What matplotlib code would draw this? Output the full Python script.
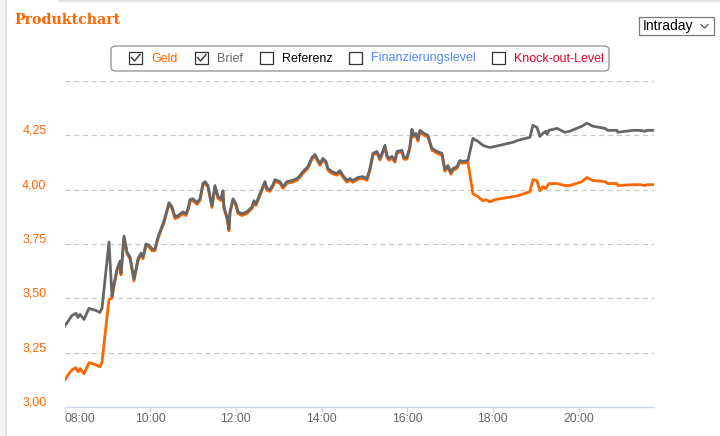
import matplotlib
matplotlib.use("Agg")
import matplotlib.pyplot as plt
import matplotlib.transforms as mtransforms
from matplotlib.patches import FancyBboxPatch, Rectangle
from matplotlib.lines import Line2D

# hours of day
times = [
    8.012, 8.082, 8.175, 8.268, 8.315, 8.362, 8.455, 8.572, 8.735, 8.828,
    8.875, 9.039, 9.108, 9.155, 9.225, 9.295, 9.319, 9.389, 9.459, 9.529,
    9.622, 9.715, 9.785, 9.832, 9.902, 9.972, 10.042, 10.112, 10.182, 10.252,
    10.322, 10.392, 10.439, 10.509, 10.579, 10.649, 10.742, 10.765, 10.835, 10.882,
    10.929, 10.999, 11.092, 11.162, 11.232, 11.279, 11.349, 11.442, 11.512, 11.582,
    11.652, 11.699, 11.722, 11.792, 11.839, 11.862, 11.932, 12.002, 12.049, 12.142,
    12.259, 12.376, 12.422, 12.469, 12.562, 12.679, 12.726, 12.796, 12.866, 12.912,
    13.029, 13.099, 13.193, 13.309, 13.426, 13.496, 13.566, 13.683, 13.776, 13.846,
    13.893, 13.963, 14.033, 14.103, 14.149, 14.243, 14.359, 14.429, 14.499, 14.593,
    14.663, 14.733, 14.849, 14.966, 15.060, 15.130, 15.200, 15.293, 15.363, 15.410,
    15.480, 15.526, 15.573, 15.643, 15.713, 15.760, 15.876, 15.923, 15.993, 16.063,
    16.110, 16.156, 16.203, 16.250, 16.296, 16.390, 16.483, 16.576, 16.693, 16.810,
    16.880, 16.950, 17.020, 17.067, 17.160, 17.230, 17.300, 17.417, 17.533, 17.650,
    17.767, 17.837, 17.930, 18.047, 18.467, 18.583, 18.863, 18.933, 19.027, 19.097,
    19.167, 19.237, 19.260, 19.307, 19.494, 19.680, 19.797, 20.077, 20.194, 20.334,
    20.614, 20.684, 20.894, 20.917, 21.267, 21.431, 21.547, 21.594, 21.781,
]

brief = [
    3.375, 3.394, 3.421, 3.431, 3.412, 3.426, 3.403, 3.454, 3.444, 3.435,
    3.454, 3.759, 3.509, 3.565, 3.634, 3.671, 3.616, 3.787, 3.713, 3.690,
    3.588, 3.681, 3.708, 3.690, 3.750, 3.745, 3.727, 3.727, 3.782, 3.819,
    3.856, 3.907, 3.940, 3.921, 3.875, 3.880, 3.894, 3.898, 3.889, 3.912,
    3.954, 3.958, 3.940, 3.958, 4.028, 4.037, 4.019, 3.926, 4.019, 3.968,
    3.958, 3.995, 3.921, 3.875, 3.819, 3.898, 3.958, 3.935, 3.898, 3.889,
    3.898, 3.921, 3.949, 3.935, 3.981, 4.037, 4.005, 4.000, 4.023, 4.046,
    4.037, 4.014, 4.037, 4.042, 4.051, 4.065, 4.083, 4.106, 4.148, 4.162,
    4.144, 4.120, 4.144, 4.130, 4.097, 4.083, 4.074, 4.088, 4.065, 4.042,
    4.051, 4.042, 4.056, 4.060, 4.051, 4.097, 4.167, 4.176, 4.144, 4.167,
    4.204, 4.157, 4.144, 4.153, 4.134, 4.176, 4.181, 4.148, 4.148, 4.199,
    4.278, 4.250, 4.259, 4.231, 4.273, 4.259, 4.250, 4.190, 4.176, 4.167,
    4.093, 4.111, 4.079, 4.097, 4.106, 4.134, 4.130, 4.134, 4.236, 4.222,
    4.204, 4.199, 4.194, 4.199, 4.218, 4.227, 4.241, 4.296, 4.287, 4.245,
    4.259, 4.269, 4.255, 4.273, 4.282, 4.264, 4.269, 4.292, 4.306, 4.292,
    4.282, 4.273, 4.273, 4.264, 4.273, 4.273, 4.269, 4.273, 4.273,
]

geld = [
    3.125, 3.148, 3.171, 3.181, 3.162, 3.176, 3.153, 3.204, 3.194, 3.185,
    3.208, 3.495, 3.501, 3.557, 3.626, 3.663, 3.608, 3.779, 3.705, 3.682,
    3.580, 3.673, 3.700, 3.682, 3.742, 3.737, 3.719, 3.719, 3.774, 3.811,
    3.848, 3.899, 3.932, 3.913, 3.867, 3.872, 3.886, 3.890, 3.881, 3.904,
    3.946, 3.950, 3.932, 3.950, 4.020, 4.029, 4.011, 3.918, 4.011, 3.960,
    3.950, 3.987, 3.913, 3.867, 3.811, 3.890, 3.950, 3.927, 3.890, 3.881,
    3.890, 3.913, 3.941, 3.927, 3.973, 4.029, 3.997, 3.992, 4.015, 4.038,
    4.029, 4.006, 4.029, 4.034, 4.043, 4.057, 4.075, 4.098, 4.140, 4.154,
    4.136, 4.112, 4.136, 4.122, 4.089, 4.075, 4.066, 4.080, 4.057, 4.034,
    4.043, 4.034, 4.048, 4.052, 4.043, 4.089, 4.159, 4.168, 4.136, 4.159,
    4.196, 4.149, 4.136, 4.145, 4.126, 4.168, 4.173, 4.140, 4.140, 4.191,
    4.270, 4.242, 4.251, 4.223, 4.265, 4.251, 4.242, 4.182, 4.168, 4.159,
    4.085, 4.103, 4.071, 4.089, 4.098, 4.126, 4.122, 4.126, 3.981, 3.968,
    3.949, 3.954, 3.944, 3.954, 3.968, 3.972, 3.991, 4.046, 4.042, 3.995,
    4.014, 4.005, 4.014, 4.028, 4.028, 4.019, 4.019, 4.037, 4.056, 4.042,
    4.037, 4.028, 4.028, 4.019, 4.023, 4.023, 4.019, 4.023, 4.023,
]

y_ticks = [3.0, 3.25, 3.5, 3.75, 4.0, 4.25]
grid_levels = [3.25, 3.5, 3.75, 4.0, 4.25, 4.5]
x_ticks = [8, 10, 12, 14, 16, 18, 20]
x_labels = ["08:00", "10:00", "12:00", "14:00", "16:00", "18:00", "20:00"]
legend_items = ["Geld", "Brief", "Referenz", "Finanzierungslevel", "Knock-out-Level"]
legend_checked = [True, True, False, False, False]

ORANGE = "#ff6600"
GRAY = "#666666"
W, H = 720, 436

plt.rcParams["font.family"] = ["Liberation Sans", "DejaVu Sans"]
fig = plt.figure(figsize=(W / 100, H / 100), dpi=100)


def fx(px):
    return px / W


def fy(py):
    return 1 - py / H


ax = fig.add_axes([fx(64.5), fy(407), fx(654) - fx(64.5), fy(81) - fy(407)])
ax.set_xlim(8.0, 21.76)
ax.set_ylim(3.0, 4.5)

for lv in grid_levels:
    ax.axhline(lv, color="#c8c8c8", lw=0.9, ls=(0, (4, 3)), zorder=1)

ax.plot(times, geld, color=ORANGE, lw=2.0, zorder=3, solid_joinstyle="round")
ax.plot(times, brief, color=GRAY, lw=2.0, zorder=4, solid_joinstyle="round")

for s in ["top", "right", "left"]:
    ax.spines[s].set_visible(False)
ax.spines["bottom"].set_color("#ccd6eb")
ax.spines["bottom"].set_linewidth(1.0)

ax.set_yticks(y_ticks)
ax.set_yticklabels([f"{v:.2f}".replace(".", ",") for v in y_ticks])
ax.tick_params(axis="y", length=0, pad=13, labelsize=9, labelcolor=ORANGE)
lift = mtransforms.ScaledTranslation(0, 6 / 100, fig.dpi_scale_trans)
for lab in ax.get_yticklabels():
    lab.set_transform(lab.get_transform() + lift)

ax.set_xticks(x_ticks)
ax.set_xticklabels(x_labels)
ax.tick_params(axis="x", length=3.6, width=1, color="#ccd6eb", pad=0.5,
               labelsize=8.7, labelcolor=GRAY)
ax.get_xticklabels()[0].set_horizontalalignment("left")

# page frame
fig.patches.append(Rectangle((0, 0), fx(5), 1, transform=fig.transFigure,
                             facecolor="#f4f4f4", edgecolor="none"))
fig.add_artist(Line2D([fx(5.5), fx(5.5)], [0, 1], color="#dddddd", lw=1.2))
fig.add_artist(Line2D([fx(60), 1], [fy(0.8), fy(0.8)], color="#e2e2e2", lw=1.6))

fig.text(fx(14), fy(20), "Produktchart", color=ORANGE, fontsize=10.2,
         fontweight="bold", family="DejaVu Serif", va="center", ha="left")

# Intraday select
fig.patches.append(Rectangle((fx(639), fy(35)), fx(714) - fx(639), fy(17) - fy(35),
                             transform=fig.transFigure, facecolor="white",
                             edgecolor="#7a7a7a", lw=0.9))
fig.text(fx(643), fy(26), "Intraday", color="black", fontsize=10, va="center")
fig.add_artist(Line2D([fx(701), fx(704.5), fx(708)], [fy(24.5), fy(28), fy(24.5)],
                      color="#444444", lw=0.8))

# legend box
fig.patches.append(FancyBboxPatch((fx(111), fy(71)), fx(609) - fx(111), fy(46) - fy(71),
                                  boxstyle="round,pad=0,rounding_size=0.008",
                                  transform=fig.transFigure, facecolor="white",
                                  edgecolor="#999999", lw=1.0))
box_x = [129, 195, 260, 349, 492]
text_x = [151, 217, 282, 371, 514]
colors = [ORANGE, GRAY, "black", "#4f86f7", "#e4002b"]
for bx, tx, label, col, chk in zip(box_x, text_x, legend_items, colors, legend_checked):
    fig.patches.append(Rectangle((fx(bx), fy(64.5)), fx(13), fy(52) - fy(64.5),
                                 transform=fig.transFigure, facecolor="white",
                                 edgecolor="#333333", lw=0.9))
    if chk:
        fig.add_artist(Line2D([fx(bx + 2.5), fx(bx + 5.5), fx(bx + 11)],
                              [fy(57.5), fy(61), fy(54.5)], color="#333333", lw=1.0))
    fig.text(fx(tx), fy(58.5), label, color=col, fontsize=9, va="center", ha="left")

fig.savefig("out.png", dpi=100)
